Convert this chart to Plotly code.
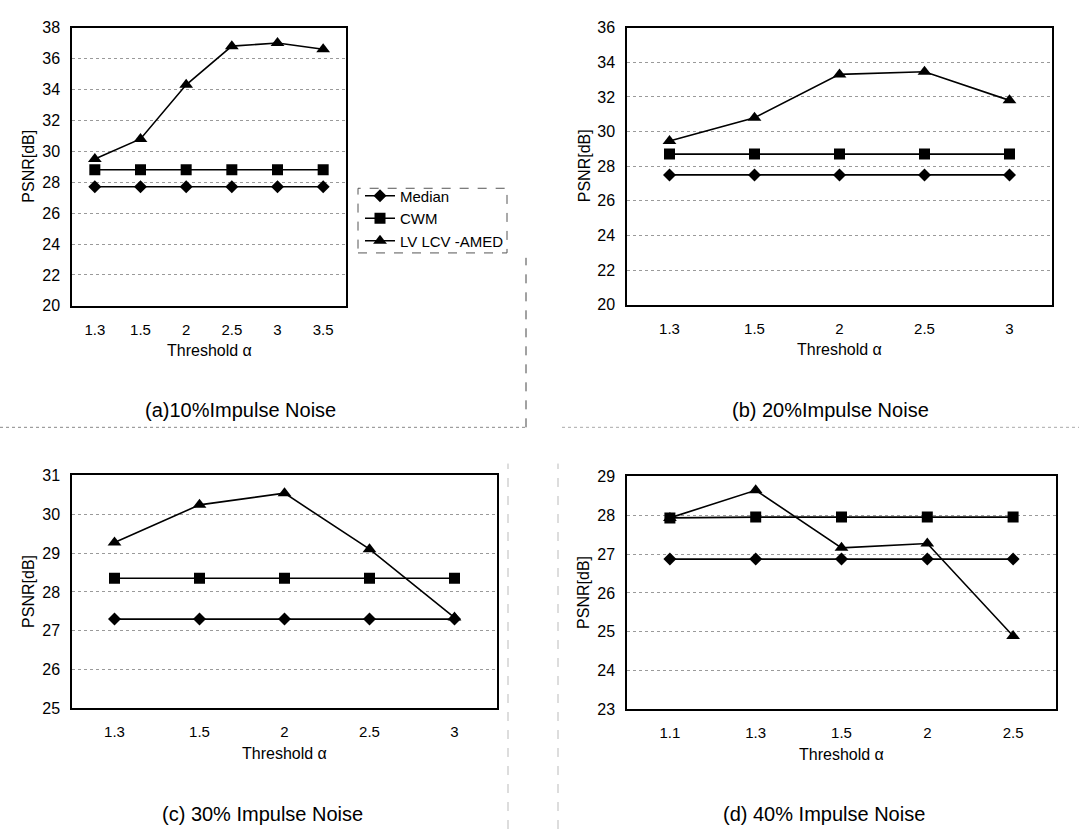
import plotly.graph_objects as go

# ---------------- data ----------------
a_x = ["1.3", "1.5", "2", "2.5", "3", "3.5"]
a_median = [27.7, 27.7, 27.7, 27.7, 27.7, 27.7]
a_cwm = [28.8, 28.8, 28.8, 28.8, 28.8, 28.8]
a_lvlcv = [29.5, 30.8, 34.3, 36.8, 37.0, 36.6]

b_x = ["1.3", "1.5", "2", "2.5", "3"]
b_median = [27.5, 27.5, 27.5, 27.5, 27.5]
b_cwm = [28.7, 28.7, 28.7, 28.7, 28.7]
b_lvlcv = [29.45, 30.8, 33.3, 33.45, 31.8]

c_x = ["1.3", "1.5", "2", "2.5", "3"]
c_median = [27.3, 27.3, 27.3, 27.3, 27.3]
c_cwm = [28.35, 28.35, 28.35, 28.35, 28.35]
c_lvlcv = [29.27, 30.24, 30.54, 29.1, 27.34]

d_x = ["1.1", "1.3", "1.5", "2", "2.5"]
d_median = [26.87, 26.87, 26.87, 26.87, 26.87]
d_cwm = [27.93, 27.95, 27.95, 27.95, 27.95]
d_lvlcv = [27.93, 28.64, 27.16, 27.27, 24.89]

series_names = ["Median", "CWM", "LV LCV -AMED"]
captions = ["(a)10%Impulse Noise", "(b) 20%Impulse Noise",
            "(c) 30% Impulse Noise", "(d) 40% Impulse Noise"]
y_ranges = [(20, 38, 2), (20, 36, 2), (25, 31, 1), (23, 29, 1)]
x_title = "Threshold α"
y_title = "PSNR[dB]"

# ---------------- layout geometry ----------------
W, H = 1079, 838
FONT = "Arial, Liberation Sans, sans-serif"
# pixel boxes: left, right, top, bottom
boxes = [(72, 346, 20, 304), (627, 1052, 20, 303),
         (72, 497, 477, 715), (627, 1056, 478, 716)]
cap_pos = [(240, 410), (830, 410), (262, 823), (824, 823)]

panels = [(a_x, a_median, a_cwm, a_lvlcv), (b_x, b_median, b_cwm, b_lvlcv),
          (c_x, c_median, c_cwm, c_lvlcv), (d_x, d_median, d_cwm, d_lvlcv)]
symbols = ["diamond", "square", "triangle-up"]
sizes = [10, 11, 12]

fig = go.Figure()
annotations = []
for i, (xs, med, cwm, lv) in enumerate(panels):
    ax = "" if i == 0 else str(i + 1)
    for j, ys in enumerate([med, cwm, lv]):
        fig.add_trace(go.Scatter(
            x=xs, y=ys, mode="lines+markers", name=series_names[j],
            xaxis="x" + ax, yaxis="y" + ax, showlegend=(i == 0),
            line=dict(color="black", width=1.6),
            marker=dict(symbol=symbols[j], size=sizes[j], color="black"),
        ))
    l, r, t, b = boxes[i]
    lo, hi, dt = y_ranges[i]
    fig.layout["xaxis" + ax] = dict(
        domain=[l / W, r / W], anchor="y" + ax, type="category",
        range=[-0.5, len(xs) - 0.5], showline=True, linecolor="black",
        linewidth=1.5, mirror=True, showgrid=False, ticks="",
        ticklabelstandoff=9, tickfont=dict(size=15, color="black", family=FONT),
        fixedrange=True,
    )
    fig.layout["yaxis" + ax] = dict(
        domain=[1 - b / H, 1 - t / H], anchor="x" + ax,
        range=[lo, hi], dtick=dt, tick0=lo, showline=True, linecolor="black",
        linewidth=1.5, mirror=True, showgrid=True, gridcolor="#9a9a9a",
        griddash="dot", gridwidth=1, ticks="", ticklabelstandoff=7,
        tickfont=dict(size=16, color="black", family=FONT), zeroline=False,
        fixedrange=True,
    )
    # axis titles
    annotations.append(dict(
        text=x_title, xref="paper", yref="paper", xanchor="center",
        yanchor="middle", x=((l + r) / 2) / W, y=1 - (b + 46) / H,
        showarrow=False, font=dict(size=16, color="black", family=FONT)))
    annotations.append(dict(
        text=y_title, xref="paper", yref="paper", textangle=-90,
        xanchor="center", yanchor="middle",
        x=(l - 43) / W, y=1 - ((t + b) / 2) / H, showarrow=False,
        font=dict(size=16, color="black", family=FONT)))
    cx, cy = cap_pos[i]
    annotations.append(dict(
        text=captions[i], xref="paper", yref="paper", xanchor="center",
        yanchor="middle", x=cx / W, y=1 - cy / H, showarrow=False,
        font=dict(size=20, color="black", family=FONT)))

# faint dashed frame lines from the scanned figure
shapes = [
    dict(type="rect", xref="paper", yref="paper",
         x0=358 / W, x1=507 / W, y0=1 - 250 / H, y1=1 - 184 / H,
         line=dict(color="#555", width=1, dash="dash")),
    dict(type="line", xref="paper", yref="paper",
         x0=526 / W, x1=526 / W, y0=1 - 428 / H, y1=1 - 255 / H,
         line=dict(color="#444", width=1, dash="dash")),
    dict(type="line", xref="paper", yref="paper",
         x0=0, x1=526 / W, y0=1 - 428 / H, y1=1 - 428 / H,
         line=dict(color="#888", width=1, dash="dot")),
    dict(type="line", xref="paper", yref="paper",
         x0=562 / W, x1=1079 / W, y0=1 - 428 / H, y1=1 - 428 / H,
         line=dict(color="#aaa", width=1, dash="dot")),
    dict(type="line", xref="paper", yref="paper",
         x0=508 / W, x1=508 / W, y0=0, y1=1 - 465 / H,
         line=dict(color="#bbb", width=1, dash="dash")),
    dict(type="line", xref="paper", yref="paper",
         x0=558 / W, x1=558 / W, y0=0, y1=1 - 465 / H,
         line=dict(color="#bbb", width=1, dash="dash")),
]

fig.update_layout(
    width=W, height=H, margin=dict(l=0, r=0, t=0, b=0),
    paper_bgcolor="white", plot_bgcolor="white",
    font=dict(family=FONT, color="black"),
    annotations=annotations, shapes=shapes,
    legend=dict(x=360 / W, y=1 - 175 / H, xanchor="left", yanchor="top",
                bgcolor="rgba(0,0,0,0)", borderwidth=0,
                font=dict(size=15, color="black", family=FONT),
                itemwidth=30, tracegroupgap=0),
)

fig.write_html("out.html")
